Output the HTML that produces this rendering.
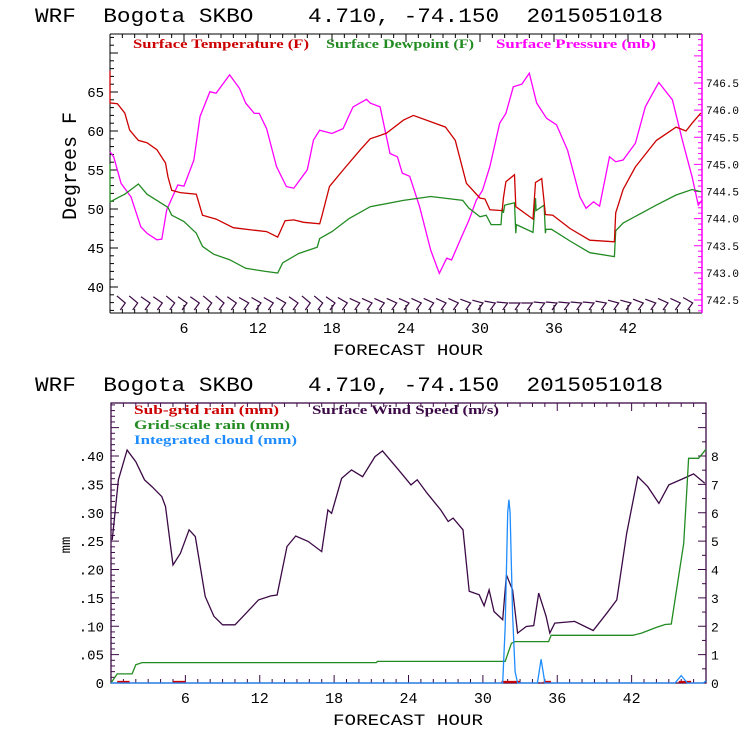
<!DOCTYPE html>
<html><head><meta charset="utf-8">
<style>
html,body{margin:0;padding:0;background:#fff;}
svg{display:block;}
text{font-family:"Liberation Sans",sans-serif;}
.mono{font-family:"Liberation Mono",monospace;}
.ttl{font-family:"Liberation Mono",monospace;white-space:pre;}
.lg{font-family:"Liberation Serif",serif;font-weight:bold;font-size:13px;}
</style></head>
<body>
<svg id="chart" width="740" height="740" viewBox="0 0 740 740" xmlns="http://www.w3.org/2000/svg">
<rect width="740" height="740" fill="#fff"/>
<g id="topPanel"></g>
<g id="botPanel"></g>
</svg>
<script>
const tempHours=[0,0,0.6,1.2,1.6,2.3,3.0,3.8,4.5,4.7,5.0,5.7,7.0,7.5,8.6,10,11.6,12.7,13.6,14.2,14.9,15.7,17.0,17.2,17.8,18.9,20.3,21.1,22.4,23.8,24.6,27.2,28,28.9,30,30.4,30.8,31.8,31.9,32.1,32.8,32.9,34.3,34.5,35,35.3,35.9,37.3,38.9,40.9,41,41.6,42.6,44.3,45.9,46.7,47.2,47.9];
const tempVals=[67.7,63.6,63.5,62.3,60.1,58.8,58.5,57.6,55.9,54.1,52.4,52.1,51.9,49.2,48.7,47.6,47.3,47.1,46.4,48.5,48.6,48.3,48.1,49.2,52.9,55,57.6,59.0,59.7,61.4,62.0,60.5,58.8,53.3,51.4,51.3,49.9,49.8,51.4,53.5,54.4,50.3,48.7,53.4,53.9,49.3,49.2,47.5,46.0,45.8,49.5,52.5,55.4,58.8,60.5,60.0,61.0,62.3];
const dewHours=[0,0,0.7,1.2,2.3,3.0,3.8,4.7,5.0,6.0,7.0,7.5,8.4,9.7,11.0,12.6,13.6,14.0,15.3,16.8,17.0,18,19.4,21.1,23.8,26,28.6,29.1,30,30.5,30.9,31.7,31.8,31.9,32,32.8,32.9,32.95,34.3,34.5,34.55,35.2,35.3,35.35,35.8,37.3,38.9,40.9,41,41.6,44.3,45.9,47.2,47.9];
const dewVals=[55.8,50.9,51.5,51.9,53.2,51.9,51.1,50.2,49.2,48.4,46.9,45.2,44.2,43.5,42.4,42.0,41.8,43.1,44.3,45.1,46.2,47.1,48.8,50.3,51.1,51.6,51.1,50.1,49.0,49.2,48.0,48.0,50.1,49.5,50.5,50.8,46.9,48.0,47.0,51.4,49.8,50.5,46.9,47.4,47.4,45.9,44.4,43.9,47.2,48.2,50.5,51.8,52.5,52.2];
const presHours=[0,0.3,0.9,1.7,2.5,3.0,3.8,4.2,4.6,5.5,6.0,6.8,7.3,8.1,8.6,9.7,10.5,11.0,11.7,12.1,12.7,13.5,14.3,14.9,16.0,16.5,17.0,18,18.9,19.7,20.8,21.1,21.9,22.7,23.3,23.7,24.3,25.1,26,26.7,27.3,27.7,28.4,29.1,29.7,30.2,30.8,31.6,32.1,32.7,33.4,34.0,34.6,35.4,36.2,37.1,38.1,38.6,39.2,39.7,40.5,41,41.6,42.6,43.4,44.0,44.5,45.6,46.4,47.2,47.7,48];
const presVals=[745.23,745.14,744.65,744.40,743.85,743.73,743.61,743.62,744.16,744.62,744.60,745.08,745.88,746.34,746.31,746.65,746.40,746.13,745.94,745.94,745.66,744.96,744.59,744.56,744.90,745.45,745.63,745.57,745.66,746.06,746.20,746.13,746.06,745.20,745.14,744.84,744.78,744.22,743.42,742.99,743.27,743.24,743.61,743.97,744.34,744.52,744.96,745.76,745.94,746.43,746.48,746.68,746.13,745.85,745.73,745.26,744.40,744.19,744.31,744.23,745.14,745.05,745.08,745.39,746.06,746.31,746.51,746.19,745.45,744.77,744.25,744.34];
const barbAngles=[40,40,35,35,40,35,35,40,40,35,30,30,30,30,35,40,40,35,30,25,25,25,25,25,25,25,25,25,20,15,10,5,0,0,5,5,5,5,5,10,15,15,20,20,25,25,30];
const xTickLabels=["6","12","18","24","30","36","42"];
const leftTicksTop=["40","45","50","55","60","65"];
const rightTicksTop=["742.5","743.0","743.5","744.0","744.5","745.0","745.5","746.0","746.5"];
const windHours=[0.1,0.6,1.3,2.0,2.7,3.3,4.1,4.4,5.0,5.6,6.3,6.8,7.6,8.3,9.0,10.0,10.9,11.9,12.9,13.4,14.2,14.9,15.9,17.0,17.5,17.8,18.6,19.4,20.3,21.3,21.9,23.2,24.2,24.7,25.5,26.6,27.2,27.6,28.4,28.9,29.7,30.1,30.5,30.9,31.6,31.9,32.4,32.8,33.5,34.1,34.5,35.1,35.4,35.8,37.4,38.9,40.0,40.8,41.6,42.5,43.3,44.2,45.0,46.2,47.0,47.9];
const windVals=[5.04,7.16,8.21,7.80,7.16,6.92,6.57,6.22,4.16,4.57,5.40,5.16,3.05,2.35,2.05,2.05,2.46,2.93,3.07,3.1,4.81,5.18,4.99,4.63,6.10,5.98,7.21,7.51,7.27,7.98,8.18,7.51,6.98,7.16,6.69,6.10,5.69,5.81,5.40,3.23,3.11,2.72,3.28,2.52,2.23,3.81,3.28,1.76,1.99,2.02,3.17,2.35,1.76,2.11,2.17,1.85,2.46,2.93,5.28,7.27,6.92,6.33,6.98,7.21,7.37,7.04];
const gridHours=[0,0.5,1.7,2.0,2.5,21.4,21.5,31.8,32.3,32.6,35.3,35.5,42.1,42.8,44.0,44.7,45.2,46.2,46.5,46.6,47.4,48];
const gridVals=[0,0.016,0.016,0.032,0.036,0.036,0.038,0.038,0.070,0.073,0.073,0.084,0.084,0.088,0.098,0.103,0.104,0.246,0.358,0.396,0.396,0.412];
const cloudHours=[0,31.6,31.8,32.0,32.1,32.2,32.4,32.6,32.8,34.4,34.7,35.0,45.5,46.0,46.5,47.8,48];
const cloudVals=[0,0,0.10,0.30,0.323,0.30,0.12,0.02,0,0,0.042,0,0,0.013,0,0,0.004];
const subHours=[0.5,1.5,5.0,6.0,31.5,33.0,34.9,35.5,45.8,46.8];
const subVals=[0.002,0.002,0.002,0.002,0.002,0.002,0.002,0.002,0.002,0.002];
const leftTicksBot=["0",".05",".10",".15",".20",".25",".30",".35",".40"];
const rightTicksBot=["0","1","2","3","4","5","6","7","8"];

const NS="http://www.w3.org/2000/svg";
function mk(tag,attrs,parent){const e=document.createElementNS(NS,tag);for(const k in attrs)e.setAttribute(k,attrs[k]);parent.appendChild(e);return e;}

const T={x0:110,x1:702,y0:34,y1:313};
const tx=h=>T.x0+h*(T.x1-T.x0)/48;
const ty=d=>287-(d-40)*7.8;
const tp=p=>300-(p-742.5)*54.25;
const B={x0:111,x1:706,y0:403,y1:683};
const bx=h=>B.x0+h*(B.x1-B.x0)/48;
const bmm=v=>B.y1-v*(B.y1-456)/0.4;
const bw=v=>B.y1-v*(B.y1-456)/8;

const topG=document.getElementById('topPanel');
const botG=document.getElementById('botPanel');

function title(parent,y,name){
  const e=mk('text',{x:35,y:y,'font-size':20,fill:'#000',class:'ttl',textLength:628,lengthAdjust:'spacingAndGlyphs'},parent);
  e.textContent="WRF  Bogota SKBO    4.710, -74.150  2015051018";
  
  
}
title(topG,22,'top-title');
title(botG,391,'bottom-title');

function line(parent,hs,vs,fx,fy,color,name){
  let d='';
  for(let i=0;i<hs.length;i++){d+=(i?'L':'M')+fx(hs[i]).toFixed(1)+','+fy(vs[i]).toFixed(1);}
  const p=mk('path',{d:d,fill:'none',stroke:color,'stroke-width':1.3},parent);
  
  
}

let g=mk('g',{},topG);


for(let h=1;h<48;h++){
  const x=tx(h),L=(h%6==0)?8:4;
  mk('line',{x1:x,y1:T.y1,x2:x,y2:T.y1-L,stroke:'#000'},g);
  mk('line',{x1:x,y1:T.y0,x2:x,y2:T.y0+L,stroke:'#000'},g);
}
for(let d=37;d<=72;d++){
  const y=ty(d),L=(d%5==0)?8:4;
  if(y>T.y0&&y<T.y1) mk('line',{x1:T.x0,y1:y,x2:T.x0+L,y2:y,stroke:'#000'},g);
}
for(let k=0;k<=60;k++){
  const p=742.0+k*0.1,y=tp(p);
  if(y>T.y0&&y<T.y1){const L=(k%5==0)?8:4;mk('line',{x1:T.x1,y1:y,x2:T.x1-L,y2:y,stroke:'#f0f'},g);}
}
mk('line',{x1:T.x0,y1:T.y0,x2:T.x1,y2:T.y0,stroke:'#000'},g);
mk('line',{x1:T.x0,y1:T.y1,x2:T.x1,y2:T.y1,stroke:'#000'},g);
mk('line',{x1:T.x0,y1:T.y0,x2:T.x0,y2:T.y1,stroke:'#000'},g);
mk('line',{x1:T.x1,y1:T.y0,x2:T.x1,y2:T.y1,stroke:'#f0f','stroke-width':1.5},g);
xTickLabels.forEach((s,i)=>{
  const e=mk('text',{x:tx((i+1)*6),y:333,'font-size':15,'text-anchor':'middle',class:'mono'},g);e.textContent=s;
  
  
});
leftTicksTop.forEach((s,i)=>{
  const e=mk('text',{x:104,y:ty(40+i*5)+5,'font-size':14,'text-anchor':'end',class:'mono'},g);e.textContent=s;
  
  
});
rightTicksTop.forEach((s,i)=>{
  const e=mk('text',{x:706,y:tp(742.5+i*0.5)+4,'font-size':11,class:'mono'},g);e.textContent=s;
  
  
});
let tt=mk('text',{x:408,y:355,'font-size':16,'text-anchor':'middle',class:'mono',textLength:150,lengthAdjust:'spacingAndGlyphs'},g);tt.textContent="FORECAST HOUR";


tt=mk('text',{x:76,y:166,'font-size':20,'text-anchor':'middle',class:'mono',transform:'rotate(-90 76 166)',textLength:108,lengthAdjust:'spacingAndGlyphs'},g);tt.textContent="Degrees F";



[["Surface Temperature (F)",133,176,'#cc0000','legend-temperature'],["Surface Dewpoint (F)",326,148,'#228b22','legend-dewpoint'],["Surface Pressure (mb)",496,160,'#ff00ff','legend-pressure']].forEach(a=>{
  const e=mk('text',{x:a[1],y:48,class:'lg',fill:a[3],textLength:a[2],lengthAdjust:'spacingAndGlyphs'},topG);e.textContent=a[0];
  
  
});

line(topG,presHours,presVals,tx,tp,'#ff00ff','pressure-line');
line(topG,dewHours,dewVals,tx,ty,'#228b22','dewpoint-line');
line(topG,tempHours,tempVals,tx,ty,'#cc0000','temperature-line');

const wb=mk('g',{stroke:'#3c0a46','stroke-width':1.2,fill:'none'},topG);


barbAngles.forEach((a,i)=>{
  const h=i+1,x=tx(h)+3,ey=303;
  const r=a*Math.PI/180;
  const sx=x-11*Math.cos(r),sy=ey-11*Math.sin(r);
  const p=mk('path',{d:`M${sx.toFixed(1)},${sy.toFixed(1)}L${x.toFixed(1)},${ey}L${(x-5).toFixed(1)},${ey+7}`},wb);
  
  
});

const PUR='#3c0a46';
g=mk('g',{},botG);


for(let h=1;h<48;h++){
  const x=bx(h),L=(h%6==0)?8:4;
  mk('line',{x1:x,y1:B.y1,x2:x,y2:B.y1-L,stroke:PUR},g);
  mk('line',{x1:x,y1:B.y0,x2:x,y2:B.y0+L,stroke:PUR},g);
}
for(let k=1;k<50;k++){
  const y=bmm(k*0.01),L=(k%5==0)?8:4;
  if(y>B.y0) mk('line',{x1:B.x0,y1:y,x2:B.x0+L,y2:y,stroke:PUR},g);
}
for(let k=1;k<20;k++){
  const y=bw(k*0.5),L=(k%2==0)?8:4;
  if(y>B.y0) mk('line',{x1:B.x1,y1:y,x2:B.x1-L,y2:y,stroke:PUR},g);
}
mk('rect',{x:B.x0,y:B.y0,width:B.x1-B.x0,height:B.y1-B.y0,fill:'none',stroke:PUR,'stroke-width':1.3},g);
xTickLabels.forEach((s,i)=>{
  const e=mk('text',{x:bx((i+1)*6),y:703,'font-size':15,'text-anchor':'middle',class:'mono'},g);e.textContent=s;
  
  
});
leftTicksBot.forEach((s,i)=>{
  const e=mk('text',{x:104,y:bmm(i*0.05)+5,'font-size':14,'text-anchor':'end',class:'mono'},g);e.textContent=s;
  
  
});
rightTicksBot.forEach((s,i)=>{
  const e=mk('text',{x:711,y:bw(i)+5,'font-size':13,class:'mono'},g);e.textContent=s;
  
  
});
tt=mk('text',{x:408,y:725,'font-size':16,'text-anchor':'middle',class:'mono',textLength:150,lengthAdjust:'spacingAndGlyphs'},g);tt.textContent="FORECAST HOUR";


tt=mk('text',{x:70,y:545,'font-size':14,'text-anchor':'middle',class:'mono',transform:'rotate(-90 70 545)'},g);tt.textContent="mm";



[["Sub-grid rain (mm)",134,145,414,'#cc0000','legend-subgrid-rain'],["Surface Wind Speed (m/s)",312,187,414,PUR,'legend-wind-speed'],["Grid-scale rain (mm)",134,156,429,'#228b22','legend-grid-rain'],["Integrated cloud (mm)",134,163,444,'#1e8cff','legend-cloud']].forEach(a=>{
  const e=mk('text',{x:a[1],y:a[3],class:'lg',fill:a[4],textLength:a[2],lengthAdjust:'spacingAndGlyphs'},botG);e.textContent=a[0];
  
  
});

line(botG,windHours,windVals,bx,bw,PUR,'wind-speed-line');
line(botG,gridHours,gridVals,bx,bmm,'#228b22','grid-rain-line');
const sg=mk('g',{stroke:'#cc0000','stroke-width':2},botG);


for(let i=0;i<subHours.length;i+=2){
  const s=mk('line',{x1:bx(subHours[i]),y1:bmm(subVals[i]),x2:bx(subHours[i+1]),y2:bmm(subVals[i+1])},sg);
  
  
}
line(botG,cloudHours,cloudVals,bx,bmm,'#1e8cff','cloud-line');
</script>
</body></html>
